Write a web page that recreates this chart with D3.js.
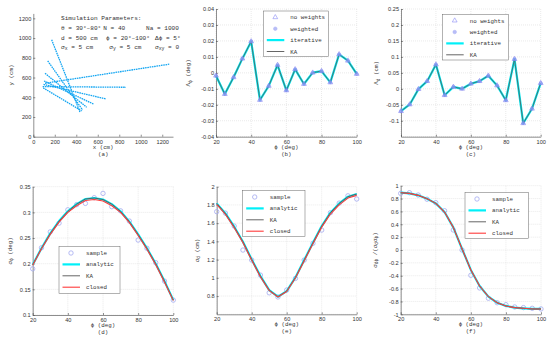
<!DOCTYPE html>
<html>
<head>
<meta charset="utf-8">
<script src="https://cdn.jsdelivr.net/npm/d3@7"></script>
<style>
  body { margin: 0; background: #fff; }
  svg { font-family: "Liberation Mono", "DejaVu Sans Mono", monospace; }
  .tick text { font-size: 5.6px; fill: #333; }
  .domain, .tick line { stroke: #444; stroke-width: 0.6; }
  .grid line { stroke: #d4d4d4; stroke-width: 0.5; stroke-dasharray: 1,1; }
  .lbl { font-size: 5.8px; fill: #333; }
</style>
</head>
<body>
<script>
// ---- data ----
var phi = [20, 25, 30, 35, 40, 45, 50, 55, 60, 65, 70, 75, 80, 85, 90, 95, 100];

// (a) simulated measurement traces, endpoints in cm: [x0, y0, x1, y1]
var traces = [
  [171, 982, 434, 250],
  [134, 768, 459, 271],
  [109, 643, 497, 298],
  [100, 565, 565, 329],
  [95, 530, 676, 383],
  [87, 508, 862, 501],
  [109, 542, 1265, 735],
  [92, 495, 450, 262]
];

// (b) bias of phi (deg)
var lambdaPhi = [-0.0018, -0.0133, -0.0028, 0.0089, 0.0197, -0.017, -0.0082, 0.0049, -0.011,
  0.0022, -0.007, 0.0001, 0.0011, -0.006, 0.0116, 0.0076, -0.0007];

// (c) bias of d (cm)
var lambdaD = [-0.07, -0.049, -0.001, 0.024, 0.076, -0.02, 0.006, 0.0, 0.016,
  0.024, 0.041, 0.0104, -0.036, 0.093, -0.108, -0.0625, 0.0177];

// (d) sigma phi (deg)
var sigPhiSample = [0.190, 0.231, 0.262, 0.279, 0.305, 0.315, 0.3175, 0.3286, 0.337,
  0.311, 0.303, 0.283, 0.246, 0.230, 0.202, 0.166, 0.129];
var sigPhiAnalytic = [0.198, 0.230, 0.259, 0.283, 0.302, 0.316, 0.326, 0.328, 0.325,
  0.316, 0.302, 0.282, 0.257, 0.230, 0.200, 0.166, 0.129];
var sigPhiClosed = [0.197, 0.229, 0.257, 0.281, 0.300, 0.313, 0.323, 0.325, 0.322,
  0.313, 0.300, 0.280, 0.255, 0.228, 0.198, 0.164, 0.128];

// (e) sigma d (cm)
var sigDSample = [1.726, 1.71, 1.568, 1.305, 1.195, 1.03, 0.836, 0.79, 0.866,
  0.994, 1.195, 1.379, 1.524, 1.715, 1.82, 1.90, 1.865];
var sigDAnalytic = [1.817, 1.707, 1.561, 1.396, 1.202, 1.019, 0.866, 0.793, 0.855,
  1.005, 1.195, 1.385, 1.568, 1.715, 1.817, 1.89, 1.92];
var sigDClosed = [1.805, 1.695, 1.550, 1.385, 1.192, 1.010, 0.860, 0.790, 0.850,
  0.998, 1.186, 1.375, 1.556, 1.700, 1.800, 1.875, 1.905];

// (f) correlation coefficient
var rhoSample = [0.88, 0.891, 0.855, 0.79, 0.736, 0.611, 0.311, 0.0, -0.394,
  -0.59, -0.75, -0.82, -0.85, -0.886, -0.896, -0.907, -0.917];
var rhoAnalytic = [0.891, 0.881, 0.85, 0.798, 0.725, 0.59, 0.352, 0.016, -0.31,
  -0.56, -0.725, -0.82, -0.87, -0.896, -0.907, -0.917, -0.917];

var phiTicks = [20, 40, 60, 80, 100];

// ---- drawing ----
var svg = d3.select('body').append('svg').attr('width', 550).attr('height', 340);
var fmt = function(d) { return String(d); };

function panel(o) {
  var x = d3.scaleLinear().domain(o.xDomain).range([o.left, o.right]);
  var y = d3.scaleLinear().domain(o.yDomain).range([o.bottom, o.top]);
  var g = svg.append('g');

  if (o.grid) {
    var gr = g.append('g').attr('class', 'grid');
    gr.selectAll('.v').data(o.xTicks).enter().append('line')
      .attr('x1', x).attr('x2', x).attr('y1', o.top).attr('y2', o.bottom);
    gr.selectAll('.h').data(o.yGrid || o.yTicks).enter().append('line')
      .attr('x1', o.left).attr('x2', o.right).attr('y1', y).attr('y2', y);
  }

  g.append('g').attr('transform', 'translate(0,' + o.bottom + ')')
    .call(d3.axisBottom(x).tickValues(o.xTicks).tickSize(-2).tickSizeOuter(0)
      .tickPadding(3).tickFormat(fmt));
  g.append('g').attr('transform', 'translate(' + o.left + ',0)')
    .call(d3.axisLeft(y).tickValues(o.yTicks).tickSize(-2).tickSizeOuter(0)
      .tickPadding(2).tickFormat(fmt));

  var cx = (o.left + o.right) / 2;
  g.append('text').attr('class', 'lbl').attr('x', cx).attr('y', o.bottom + 12)
    .attr('text-anchor', 'middle').text(o.xLabel);
  g.append('text').attr('class', 'lbl').attr('x', cx).attr('y', o.bottom + 19)
    .attr('text-anchor', 'middle').text(o.tag);

  var yl = g.append('text').attr('class', 'lbl')
    .attr('transform', 'translate(' + (o.left - o.yLabelOff) + ',' + ((o.top + o.bottom) / 2) + ')rotate(-90)')
    .attr('text-anchor', 'middle');
  o.yLabel.forEach(function(p) {
    var t = yl.append('tspan').text(p[0]);
    if (p[1]) t.attr('dy', p[1]).style('font-size', p[2] || '4.6px');
  });

  return { g: g, x: x, y: y };
}

function legend(g, x0, y0, w, h, items) {
  var lg = g.append('g').attr('transform', 'translate(' + x0 + ',' + y0 + ')');
  lg.append('rect').attr('width', w).attr('height', h)
    .attr('fill', '#fff').attr('stroke', '#666').attr('stroke-width', 0.5);
  items.forEach(function(it, i) {
    var yy = 6.3 + i * 11.4;
    if (it.type == 'line') {
      lg.append('line').attr('x1', 3.5).attr('x2', 21).attr('y1', yy).attr('y2', yy)
        .attr('stroke', it.color).attr('stroke-width', it.width);
    } else if (it.type == 'tri') {
      lg.append('path').attr('d', d3.symbol(d3.symbolTriangle, 10)())
        .attr('transform', 'translate(12,' + yy + ')')
        .attr('fill', 'none').attr('stroke', '#8a8cf5').attr('stroke-width', 0.6);
    } else if (it.type == 'dot') {
      lg.append('circle').attr('cx', 12).attr('cy', yy).attr('r', 1.8)
        .attr('fill', '#b8bdf7').attr('stroke', '#a9aff5').attr('stroke-width', 0.5);
    } else {
      lg.append('circle').attr('cx', 12).attr('cy', yy).attr('r', 2.2)
        .attr('fill', 'none').attr('stroke', '#a3aaf0').attr('stroke-width', 0.8);
    }
    lg.append('text').attr('class', 'lbl').attr('x', 27).attr('y', yy + 2).text(it.label);
  });
}

function curve(p, vals, color, width) {
  p.g.append('path').datum(vals)
    .attr('fill', 'none').attr('stroke', color).attr('stroke-width', width)
    .attr('stroke-linejoin', 'round')
    .attr('d', d3.line().x(function(d, i) { return p.x(phi[i]); }).y(function(d) { return p.y(d); }));
}

function circles(p, vals) {
  p.g.selectAll(null).data(vals).enter().append('circle')
    .attr('cx', function(d, i) { return p.x(phi[i]); })
    .attr('cy', function(d) { return p.y(d); })
    .attr('r', 2.2).attr('fill', 'none').attr('stroke', '#a3aaf0').attr('stroke-width', 0.8);
}

function biasMarks(p, vals) {
  curve(p, vals, '#00e8f0', 2.2);
  curve(p, vals, '#4f5a5a', 0.8);
  p.g.selectAll(null).data(vals).enter().append('circle')
    .attr('cx', function(d, i) { return p.x(phi[i]); })
    .attr('cy', function(d) { return p.y(d); })
    .attr('r', 1.8).attr('fill', '#8d97f2').attr('fill-opacity', 0.8);
  p.g.selectAll(null).data(vals).enter().append('path')
    .attr('d', d3.symbol(d3.symbolTriangle, 10)())
    .attr('transform', function(d, i) { return 'translate(' + p.x(phi[i]) + ',' + p.y(d) + ')'; })
    .attr('fill', 'none').attr('stroke', '#7d80f0').attr('stroke-width', 0.6);
}

var biasItems = [
  { type: 'tri', label: 'no weights' },
  { type: 'dot', label: 'weighted' },
  { type: 'line', color: '#00f0f8', width: 2.2, label: 'iterative' },
  { type: 'line', color: '#555', width: 0.9, label: 'KA' }
];
var sigItems = [
  { type: 'circle', label: 'sample' },
  { type: 'line', color: '#00f0f8', width: 2.2, label: 'analytic' },
  { type: 'line', color: '#555', width: 0.9, label: 'KA' },
  { type: 'line', color: '#ff3b3b', width: 1.1, label: 'closed' }
];

// (a)
var pa = panel({
  left: 33.3, right: 173, top: 13.4, bottom: 136.7,
  xDomain: [0, 1300], yDomain: [0, 1250],
  xTicks: [0, 200, 400, 600, 800, 1000, 1200], yTicks: [0, 200, 400, 600, 800, 1000, 1200],
  xLabel: 'x (cm)', tag: '(a)', yLabel: [['y (cm)']], yLabelOff: 20, grid: false
});
pa.g.selectAll(null).data(traces).enter().append('line')
  .attr('x1', function(d) { return pa.x(d[0]); }).attr('y1', function(d) { return pa.y(d[1]); })
  .attr('x2', function(d) { return pa.x(d[2]); }).attr('y2', function(d) { return pa.y(d[3]); })
  .attr('stroke', '#14a6f2').attr('stroke-width', 1.3).attr('stroke-dasharray', '1.6,0.7');

var ann = pa.g.append('g').attr('class', 'lbl').style('font-size', '6.1px');
ann.append('text').attr('x', 61).attr('y', 19.5).text('Simulation Parameters:');
ann.append('text').attr('x', 61).attr('y', 30.3).text('\u03b8 = 30\u00b0\u201380\u00b0');
ann.append('text').attr('x', 103.3).attr('y', 30.3).text('N = 40');
ann.append('text').attr('x', 146).attr('y', 30.3).text('Na = 1000');
ann.append('text').attr('x', 61).attr('y', 39.7).text('d = 500 cm');
ann.append('text').attr('x', 106).attr('y', 39.7).text('\u03d5 = 20\u00b0\u2013100\u00b0');
ann.append('text').attr('x', 155).attr('y', 39.7).text('\u0394\u03d5 = 5\u00b0');
[[61, 'x', '5 cm'], [109.3, 'y', '5 cm'], [155, 'xy', '0']].forEach(function(s) {
  var t = ann.append('text').attr('x', s[0]).attr('y', 48.5);
  t.append('tspan').text('\u03c3');
  t.append('tspan').attr('dy', 1.6).style('font-size', '4.8px').text(s[1]);
  t.append('tspan').attr('dy', -1.6).text(' = ' + s[2]);
});

// (b)
var pb = panel({
  left: 216, right: 356.7, top: 9, bottom: 136.7,
  xDomain: [20, 100], yDomain: [-0.04, 0.04],
  xTicks: phiTicks, yTicks: [-0.04, -0.03, -0.02, -0.01, 0, 0.01, 0.02, 0.03, 0.04],
  xLabel: '\u03d5 (deg)', tag: '(b)',
  yLabel: [['\u039b'], ['\u03d5', 1.5], [' (deg)', -1.5, '5.8px']], yLabelOff: 26, grid: true
});
biasMarks(pb, lambdaPhi);
legend(pb.g, 263.3, 11, 65, 45.7, biasItems);

// (c)
var pc = panel({
  left: 401, right: 540.7, top: 9, bottom: 136.7,
  xDomain: [20, 100], yDomain: [-0.15, 0.25],
  xTicks: phiTicks, yTicks: [-0.1, -0.05, 0, 0.05, 0.1, 0.15, 0.2, 0.25],
  yGrid: [-0.15, -0.1, -0.05, 0, 0.05, 0.1, 0.15, 0.2, 0.25],
  xLabel: '\u03d5 (deg)', tag: '(c)',
  yLabel: [['\u039b'], ['d', 1.5], [' (cm)', -1.5, '5.8px']], yLabelOff: 23, grid: true
});
biasMarks(pc, lambdaD);
legend(pc.g, 442.7, 14.3, 65.6, 45.7, biasItems);

// (d)
var pd = panel({
  left: 32.7, right: 173.3, top: 186.7, bottom: 315,
  xDomain: [20, 100], yDomain: [0.1, 0.35],
  xTicks: phiTicks, yTicks: [0.1, 0.15, 0.2, 0.25, 0.3, 0.35],
  xLabel: '\u03d5 (deg)', tag: '(d)',
  yLabel: [['\u03c3'], ['\u03d5', 1.5], [' (deg)', -1.5, '5.8px']], yLabelOff: 21, grid: true
});
circles(pd, sigPhiSample);
curve(pd, sigPhiAnalytic, '#00f0f8', 2.2);
curve(pd, sigPhiAnalytic, '#555', 0.9);
curve(pd, sigPhiClosed, '#ff3b3b', 1.1);
legend(pd.g, 59, 246.7, 61, 46.6, sigItems);

// (e)
var pe = panel({
  left: 216.7, right: 356.7, top: 186.7, bottom: 314.3,
  xDomain: [20, 100], yDomain: [0.6, 2],
  xTicks: phiTicks, yTicks: [0.8, 1, 1.2, 1.4, 1.6, 1.8, 2],
  yGrid: [0.6, 0.8, 1, 1.2, 1.4, 1.6, 1.8, 2],
  xLabel: '\u03d5 (deg)', tag: '(e)',
  yLabel: [['\u03c3'], ['d', 1.5], [' (cm)', -1.5, '5.8px']], yLabelOff: 18, grid: true
});
circles(pe, sigDSample);
curve(pe, sigDAnalytic, '#00f0f8', 2.2);
curve(pe, sigDAnalytic, '#555', 0.9);
curve(pe, sigDClosed, '#ff3b3b', 1.1);
legend(pe.g, 242.7, 190.7, 62.3, 46, sigItems);

// (f)
var pf = panel({
  left: 400.7, right: 541, top: 185.7, bottom: 314.3,
  xDomain: [20, 100], yDomain: [-1, 1],
  xTicks: phiTicks, yTicks: [-1, -0.8, -0.6, -0.4, -0.2, 0, 0.2, 0.4, 0.6, 0.8, 1],
  xLabel: '\u03d5 (deg)', tag: '(f)',
  yLabel: [['\u03c3'], ['d\u03d5', 1.5], [' /(\u03c3', -1.5, '5.8px'], ['d', 1.5], ['\u03c3', -1.5, '5.8px'], ['\u03d5', 1.5], [')', -1.5, '5.8px']],
  yLabelOff: 24, grid: true
});
circles(pf, rhoSample);
curve(pf, rhoAnalytic, '#00f0f8', 2.2);
curve(pf, rhoAnalytic, '#555', 0.9);
curve(pf, rhoAnalytic, '#ff3b3b', 1.1);
legend(pf.g, 465, 192.7, 63.3, 45.6, sigItems);
</script>
</body>
</html>
